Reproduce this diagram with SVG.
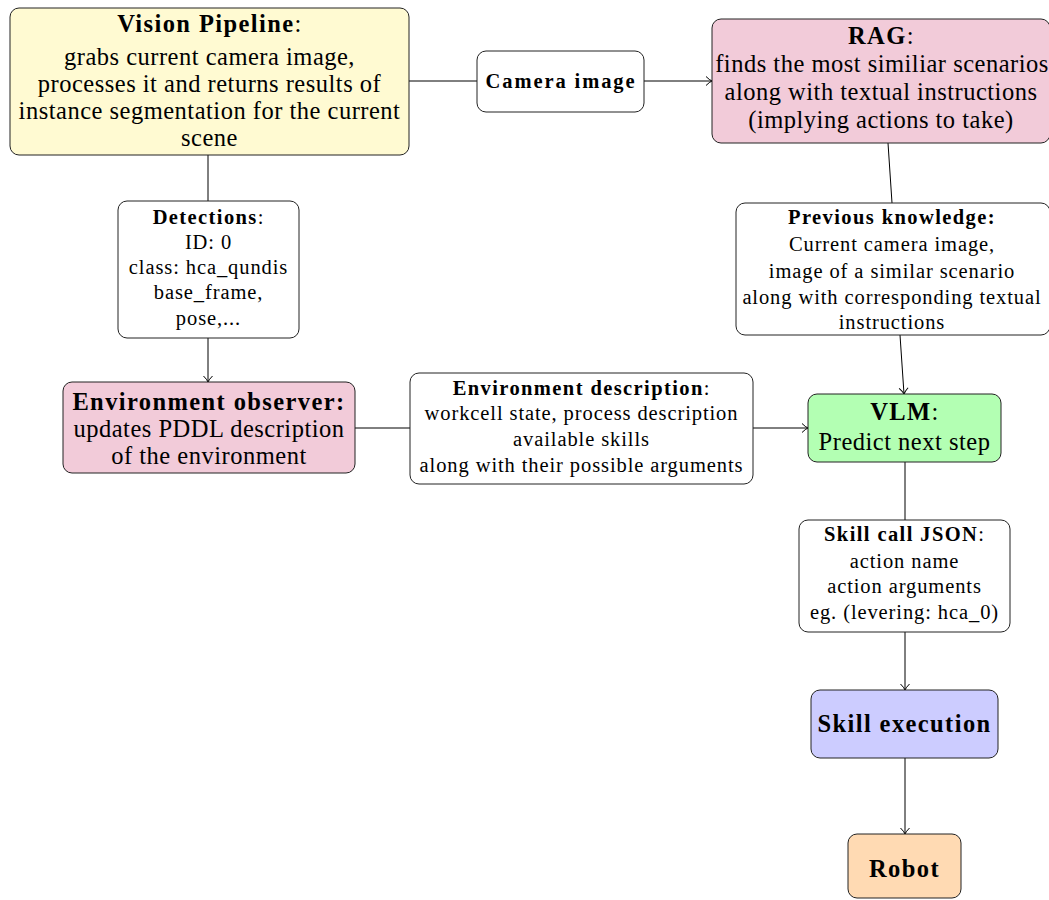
<svg xmlns="http://www.w3.org/2000/svg" width="1049" height="900" viewBox="0 0 1049 900">
<defs>
<style>
text{font-family:"Liberation Serif","Times New Roman",serif;fill:#000;text-anchor:middle;letter-spacing:0.9px}
.big{font-size:24.5px;letter-spacing:0.5px}
.sm{font-size:20.5px}
.b{font-weight:bold;letter-spacing:1.4px}
.cam{letter-spacing:1.9px}
.box{stroke:#222;stroke-width:1}
.con{stroke:#000;stroke-width:1;fill:none}
</style>
<marker id="arr" markerWidth="12" markerHeight="12" refX="10" refY="6" orient="auto" markerUnits="userSpaceOnUse">
<path d="M4,1.5 Q7.5,5 10,6 Q7.5,7 4,10.5" fill="none" stroke="#000" stroke-width="1"/>
</marker>
</defs>
<rect width="1049" height="900" fill="#fff"/>
<g id="connectors">
<line class="con" x1="409" y1="81" x2="477" y2="81"/>
<line class="con" x1="644" y1="81" x2="712" y2="81" marker-end="url(#arr)"/>
<line class="con" x1="888" y1="143" x2="892" y2="203"/>
<line class="con" x1="900" y1="335" x2="904" y2="394" marker-end="url(#arr)"/>
<line class="con" x1="208" y1="155" x2="208" y2="201"/>
<line class="con" x1="208" y1="338" x2="208" y2="382" marker-end="url(#arr)"/>
<line class="con" x1="355" y1="428" x2="410" y2="428"/>
<line class="con" x1="753" y1="428" x2="808" y2="428" marker-end="url(#arr)"/>
<line class="con" x1="905" y1="462" x2="905" y2="520"/>
<line class="con" x1="905" y1="632" x2="905" y2="690" marker-end="url(#arr)"/>
<line class="con" x1="905" y1="758" x2="905" y2="834" marker-end="url(#arr)"/>
</g>
<g id="vision">
<rect class="box" x="10" y="8" width="399" height="147" rx="9" fill="#fffad2"/>
<text class="big" x="209.5" y="32"><tspan class="b">Vision Pipeline</tspan>:</text>
<text class="big" x="209.5" y="65">grabs current camera image,</text>
<text class="big" x="209.5" y="92">processes it and returns results of</text>
<text class="big" x="209.5" y="119">instance segmentation for the current</text>
<text class="big" x="209.5" y="146">scene</text>
</g>
<g id="camera">
<rect class="box" x="477" y="51" width="167" height="61" rx="9" fill="#fff"/>
<text class="sm b cam" x="561" y="88">Camera image</text>
</g>
<g id="rag">
<rect class="box" x="712" y="19" width="338" height="124" rx="9" fill="#f2cbd9"/>
<text class="big" x="881" y="44"><tspan class="b">RAG</tspan>:</text>
<text class="big" x="882" y="72">finds the most similiar scenarios</text>
<text class="big" x="881" y="100">along with textual instructions</text>
<text class="big" x="881" y="128">(implying actions to take)</text>
</g>
<g id="detections">
<rect class="box" x="118" y="201" width="181" height="137" rx="9" fill="#fff"/>
<text class="sm" x="208.5" y="224"><tspan class="b">Detections</tspan>:</text>
<text class="sm" x="208.5" y="249">ID: 0</text>
<text class="sm" x="208.5" y="274">class: hca_qundis</text>
<text class="sm" x="208.5" y="299">base_frame,</text>
<text class="sm" x="208.5" y="325">pose,...</text>
</g>
<g id="previous">
<rect class="box" x="736" y="203" width="314" height="132" rx="9" fill="#fff"/>
<text class="sm b" x="892" y="224">Previous knowledge:</text>
<text class="sm" x="892" y="251">Current camera image,</text>
<text class="sm" x="892" y="278">image of a similar scenario</text>
<text class="sm" x="892" y="304">along with corresponding textual</text>
<text class="sm" x="892" y="329">instructions</text>
</g>
<g id="observer">
<rect class="box" x="63" y="382" width="292" height="91" rx="9" fill="#f2cbd9"/>
<text class="big b" x="209" y="410">Environment observer:</text>
<text class="big" x="209" y="437">updates PDDL description</text>
<text class="big" x="209" y="464">of the environment</text>
</g>
<g id="envdesc">
<rect class="box" x="410" y="373" width="343" height="111" rx="9" fill="#fff"/>
<text class="sm" x="581.5" y="395"><tspan class="b">Environment description</tspan>:</text>
<text class="sm" x="581.5" y="420">workcell state, process description</text>
<text class="sm" x="581.5" y="446">available skills</text>
<text class="sm" x="581.5" y="472">along with their possible arguments</text>
</g>
<g id="vlm">
<rect class="box" x="808" y="394" width="193" height="68" rx="9" fill="#b3ffb3"/>
<text class="big" x="904.5" y="420"><tspan class="b">VLM</tspan>:</text>
<text class="big" x="904.5" y="450">Predict next step</text>
</g>
<g id="skillcall">
<rect class="box" x="799" y="520" width="211" height="112" rx="9" fill="#fff"/>
<text class="sm" x="904.5" y="541"><tspan class="b">Skill call JSON</tspan>:</text>
<text class="sm" x="904.5" y="568">action name</text>
<text class="sm" x="904.5" y="593">action arguments</text>
<text class="sm" x="904.5" y="619">eg. (levering: hca_0)</text>
</g>
<g id="skillexec">
<rect class="box" x="811" y="690" width="187" height="68" rx="9" fill="#ccccff"/>
<text class="big b" x="904.5" y="732">Skill execution</text>
</g>
<g id="robot">
<rect class="box" x="848" y="834" width="113" height="64" rx="9" fill="#ffdab3"/>
<text class="big b" x="904.5" y="877">Robot</text>
</g>
</svg>
